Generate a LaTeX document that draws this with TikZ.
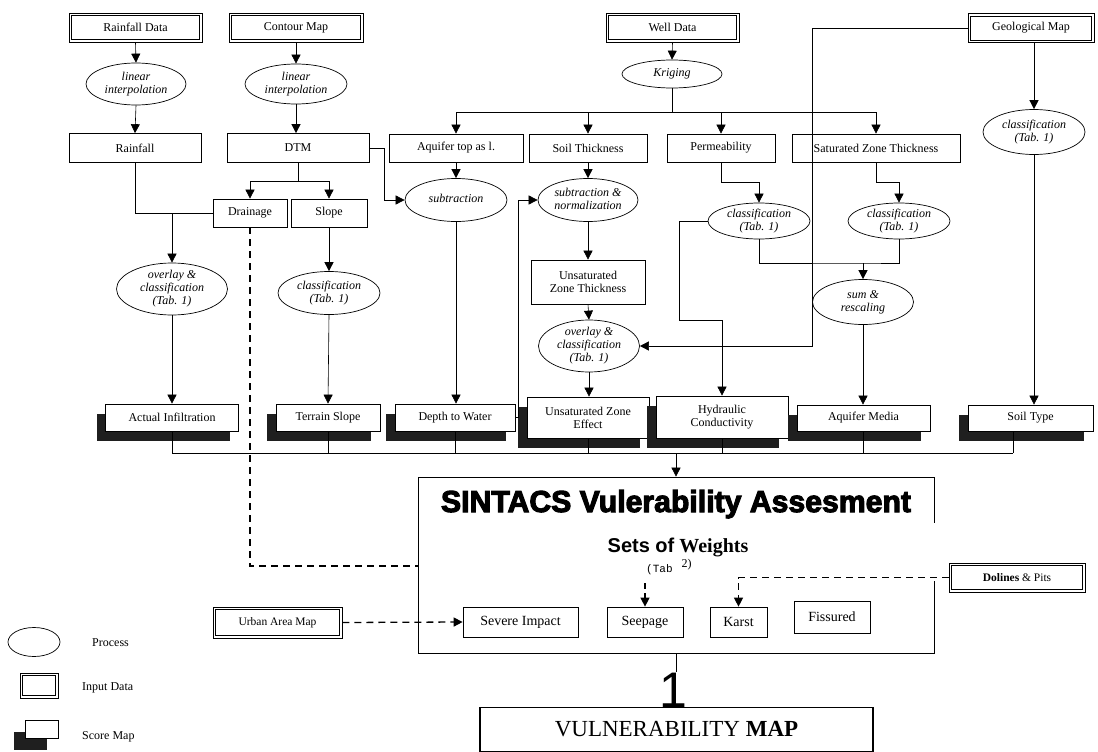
\documentclass[tikz,border=0pt]{standalone}
\usepackage{graphicx}
\usepackage{fontspec}
\setmainfont{Liberation Serif}
\newfontfamily\sansf{Liberation Sans}
\newfontfamily\heavyf{Liberation Sans}[BoldFeatures={FakeBold=3.5}]
\newfontfamily\monof{Liberation Mono}
\usetikzlibrary{arrows.meta,shapes.geometric,shadows}
\newcommand\fsz{\fontsize{12}{13}\selectfont}
\newcommand\et[1]{\makebox[0pt]{\raisebox{-3pt}[0pt][0pt]{\begin{tabular}{@{}c@{}}#1\end{tabular}}}}
\tikzset{
 inbox/.style={draw, line width=0.9pt, inner sep=0pt, font=\fsz},
 inner/.style={line width=0.5pt},
 pbox/.style={draw, line width=0.7pt, inner sep=0pt, align=center, font=\fsz},
 proc/.style={draw, ellipse, line width=0.7pt, inner sep=0pt, font=\fsz\itshape},
 score/.style={draw, fill=white, line width=0.7pt, inner sep=0pt, align=center, font=\fsz,
   drop shadow={shadow xshift=-9pt, shadow yshift=-10pt, fill=black!88, opacity=1}},
 lscore/.style={draw, fill=white, line width=0.7pt, inner sep=0pt,
   drop shadow={shadow xshift=-11pt, shadow yshift=-12pt, fill=black!88, opacity=1}},
 arr/.style={line width=0.6pt, -{Triangle[width=9pt,length=9pt]}},
 con/.style={line width=0.6pt},
 dsh/.style={line width=1.6pt, dash pattern=on 7pt off 5pt},
 dshb/.style={line width=1.3pt, dash pattern=on 7pt off 5pt},
 lbl/.style={anchor=west, inner sep=0pt, font=\fsz},
}
\begin{document}
\begin{tikzpicture}[x=1pt,y=-1pt]
\useasboundingbox (0,0) rectangle (1098,752);
% input data
\node[inbox, minimum width=133pt, minimum height=29pt] (rd) at (135.5,27.5) {Rainfall Data};
\node[inbox, minimum width=134pt, minimum height=29pt] (cm) at (296,27.5) {Contour Map};
\node[inbox, minimum width=133pt, minimum height=29pt] (wd) at (672.5,27.5) {Well Data};
\node[inbox, minimum width=126pt, minimum height=29pt] (gm) at (1031,28) {Geological Map};
% processes
\node[proc, minimum width=100pt, minimum height=42pt] (li1) at (136,84) {\et{linear\\interpolation}};
\node[proc, minimum width=102pt, minimum height=40pt] (li2) at (296,84) {\et{linear\\interpolation}};
\node[proc, minimum width=100pt, minimum height=28pt] (kr) at (672,74) {\et{Kriging}};
\node[proc, minimum width=102pt, minimum height=45pt] (clg) at (1034,132) {\et{classification\\(Tab. 1)}};
% boxes row
\node[pbox, minimum width=132pt, minimum height=29pt] (rf) at (135,148) {Rainfall};
\node[pbox, minimum width=142pt, minimum height=29pt] (dtm) at (298,148) {DTM};
\node[pbox, minimum width=134pt, minimum height=28pt] (aq) at (456,148) {Aquifer top as l.};
\node[pbox, minimum width=118pt, minimum height=28pt] (st) at (588,148) {Soil Thickness};
\node[pbox, minimum width=108pt, minimum height=28pt] (pm) at (721,148) {Permeability};
\node[pbox, minimum width=168pt, minimum height=28pt] (sz) at (876,148) {Saturated Zone Thickness};
\node[pbox, minimum width=74pt, minimum height=28pt] (dr) at (250,213) {Drainage};
\node[pbox, minimum width=76pt, minimum height=28pt] (sl) at (329,213) {Slope};
% second level processes
\node[proc, minimum width=111pt, minimum height=52pt] (ov1) at (172,289) {\et{overlay \&\\classification\\(Tab. 1)}};
\node[proc, minimum width=102pt, minimum height=43pt] (cl1) at (329,293) {\et{classification\\(Tab. 1)}};
\node[proc, minimum width=102pt, minimum height=43pt] (sub) at (456,200) {\et{subtraction}};
\node[proc, minimum width=100pt, minimum height=43pt] (sn) at (588,200) {\et{subtraction \&\\normalization}};
\node[pbox, minimum width=114pt, minimum height=44pt] (uzt) at (588,282) {Unsaturated\\Zone Thickness};
\node[proc, minimum width=101pt, minimum height=52pt] (ov2) at (589,346) {\et{overlay \&\\classification\\(Tab. 1)}};
\node[proc, minimum width=102pt, minimum height=36pt] (clp) at (759,221) {\et{classification\\(Tab. 1)}};
\node[proc, minimum width=102pt, minimum height=36pt] (cls) at (899,221) {\et{classification\\(Tab. 1)}};
\node[proc, minimum width=101pt, minimum height=45pt] (sr) at (863,302) {\et{sum \&\\rescaling}};
% score maps
\node[score, minimum width=133pt, minimum height=27pt] (ai) at (172,417.5) {Actual Infiltration};
\node[score, minimum width=104pt, minimum height=27pt] (ts) at (328,417.5) {Terrain Slope};
\node[score, minimum width=120pt, minimum height=27pt] (dw) at (455,417.5) {Depth to Water};
\node[score, minimum width=122pt, minimum height=41pt] (uze) at (588,417.5) {Unsaturated Zone\\Effect};
\node[score, minimum width=132pt, minimum height=42pt] (hc) at (722,417) {Hydraulic\\Conductivity};
\node[score, minimum width=133pt, minimum height=26pt] (am) at (863.5,418) {Aquifer Media};
\node[score, minimum width=125pt, minimum height=26pt] (sty) at (1030.5,418) {Soil Type};
% connectors top
\draw[arr] (rd.south) -- (li1.north);
\draw[arr] (li1.south) -- (rf.north);
\draw[arr] (cm.south) -- (li2.north);
\draw[arr] (li2.south) -- (li2.south |- dtm.north);
\draw[arr] (wd.south) -- (kr.north);
\coordinate (kb) at (672,112);
\draw[con] (kr.south) -- (kb);
\draw[con] (aq.north |- kb) -- (sz.north |- kb);
\draw[arr] (aq.north |- kb) -- (aq.north);
\draw[arr] (st.north |- kb) -- (st.north);
\draw[arr] (pm.north |- kb) -- (pm.north);
\draw[arr] (sz.north |- kb) -- (sz.north);
\draw[arr] (clg.north |- gm.south) -- (clg.north);
\draw[arr] (clg.south) -- (clg.south |- sty.north);
\coordinate (gx) at (812,346);
\draw[arr] (gm.west) -| (gx) -- (ov2.east);
\coordinate (db) at (298,181);
\draw[con] (dtm.south) -- (db);
\draw[con] (dr.north |- db) -- (sl.north |- db);
\draw[arr] (dr.north |- db) -- (dr.north);
\draw[arr] (sl.north |- db) -- (sl.north);
\draw[con] (rf.south) |- (dr.west);
\draw[arr] (ov1.north |- dr.west) -- (ov1.north);
\draw[arr] (ov1.south) -- (ai.north);
\draw[arr] (sl.south) -- (cl1.north);
\draw[arr] (cl1.south) -- (ts.north);
\coordinate (dx) at (384,200);
\draw[arr] (dtm.east) -| (dx) -- (sub.west);
\draw[arr] (aq.south) -- (sub.north);
\draw[arr] (sub.south) -- (sub.south |- dw.north);
\draw[arr] (st.south) -- (sn.north);
\draw[arr] (sn.south) -- (uzt.north);
\draw[arr] (uzt.south) -- (ov2.north);
\draw[arr] (ov2.south) -- (ov2.south |- uze.north);
\coordinate (sx) at (518,200);
\draw[arr] (dw.east) -| (sx) -- (sn.west);
\draw[arr] (pm.south) -- ++(0,20) -| (clp.north);
\draw[arr] (sz.south) -- ++(0,20) -| (cls.north);
\coordinate (jn) at (863,263);
\draw[con] (clp.south) |- (jn) -| (cls.south);
\draw[arr] (jn) -- (sr.north);
\draw[arr] (sr.south) -- (sr.south |- am.north);
\coordinate (hx) at (679,320);
\draw[arr] (clp.west) -| (hx) -| (hc.north);
% bus
\coordinate (bl) at (172,453);
\coordinate (br) at (1013,453);
\draw[con] (bl) -- (br);
\draw[con] (ai.south) -- (bl);
\draw[con] (ts.south) -- (ts.south |- bl);
\draw[con] (dw.south) -- (dw.south |- bl);
\draw[con] (uze.south) -- (uze.south |- bl);
\draw[con] (hc.south) -- (hc.south |- bl);
\draw[con] (am.south) -- (am.south |- bl);
\draw[con] (br |- sty.south) -- (br);
% SINTACS box
\node[draw, line width=0.7pt, minimum width=516pt, minimum height=176pt, inner sep=0pt] (sin) at (676,565) {};
\fill[white] (930,523) rectangle (938,581);
\draw[arr] (sin.north |- bl) -- (sin.north);
\node[anchor=base, inner sep=0pt] (ttl) at (676,512) {\resizebox{470pt}{22pt}{\heavyf\bfseries SINTACS Vulerability Assesment}};
\node[anchor=base, inner sep=0pt, font=\fontsize{20}{20}\selectfont] (sow) at (678,552) {{\sansf\bfseries Sets of} \textbf{Weights}};
\node[anchor=base west, inner sep=0pt] (tab) at (646,572) {{\monof\fontsize{11}{11}\selectfont (Tab}\hspace{9pt}\raisebox{5pt}{\fontsize{12}{12}\selectfont 2)}};
\node[pbox, font=\fontsize{14}{14}\selectfont, minimum width=115pt, minimum height=30pt] (si) at (520.5,622) {Severe Impact};
\node[pbox, font=\fontsize{14}{14}\selectfont, minimum width=76pt, minimum height=30pt] (sp) at (645,622) {Seepage};
\node[pbox, font=\fontsize{14}{14}\selectfont, minimum width=57pt, minimum height=30pt] (ka) at (738.5,622) {Karst};
\node[pbox, font=\fontsize{14}{14}\selectfont, minimum width=76pt, minimum height=32pt] (fi) at (832,617) {Fissured};
\node[inbox, minimum width=136pt, minimum height=29pt, font=\fontsize{11.5}{12}\selectfont] (dp) at (1017,577.5) {\textbf{Dolines} \& Pits};
\node[inbox, minimum width=129pt, minimum height=31pt, font=\fontsize{11.5}{12}\selectfont] (ua) at (277.5,622.5) {Urban Area Map};
\coordinate (tabs) at (645,583);
\draw[arr, line width=1.2pt, dash pattern=on 6pt off 4pt] (tabs) -- (sp.north);
\draw[arr, dshb] (dp.west) -| (ka.north);
\draw[arr, dshb] (ua.east) -- (si.west);
\coordinate (dend) at (418,566);
\draw[dsh] (dr.south) |- (dend);
% vulnerability map
\node[anchor=base, inner sep=0pt, font=\sansf\fontsize{50}{50}\selectfont] (one) at (673,707) {1};
\draw[con] (sin.south) -- (sin.south |- one.north);
\node[draw, line width=1.5pt, minimum width=393pt, minimum height=44pt, inner sep=0pt, font=\fontsize{23}{23}\selectfont] (vm) at (676.5,729.5) {VULNERABILITY \textbf{MAP}};
% legend
\node[proc, minimum width=52pt, minimum height=29pt] (lp) at (34,642) {};
\node[lbl] (lpt) at (92,643) {Process};
\node[inbox, minimum width=38pt, minimum height=25pt] (li) at (39,685.5) {};
\node[lbl] (lit) at (82,688) {Input Data};
\node[lscore, minimum width=33pt, minimum height=18pt] (ls) at (41.5,729) {};
\node[lbl] (lst) at (82,737) {Score Map};
% inner lines of the input-data boxes
\foreach \n in {rd,cm,wd,gm,dp,ua,li}
  \draw[inner] ([shift={(3pt,3pt)}]\n.south west) rectangle ([shift={(-3pt,-3pt)}]\n.north east);
\end{tikzpicture}
\end{document}
